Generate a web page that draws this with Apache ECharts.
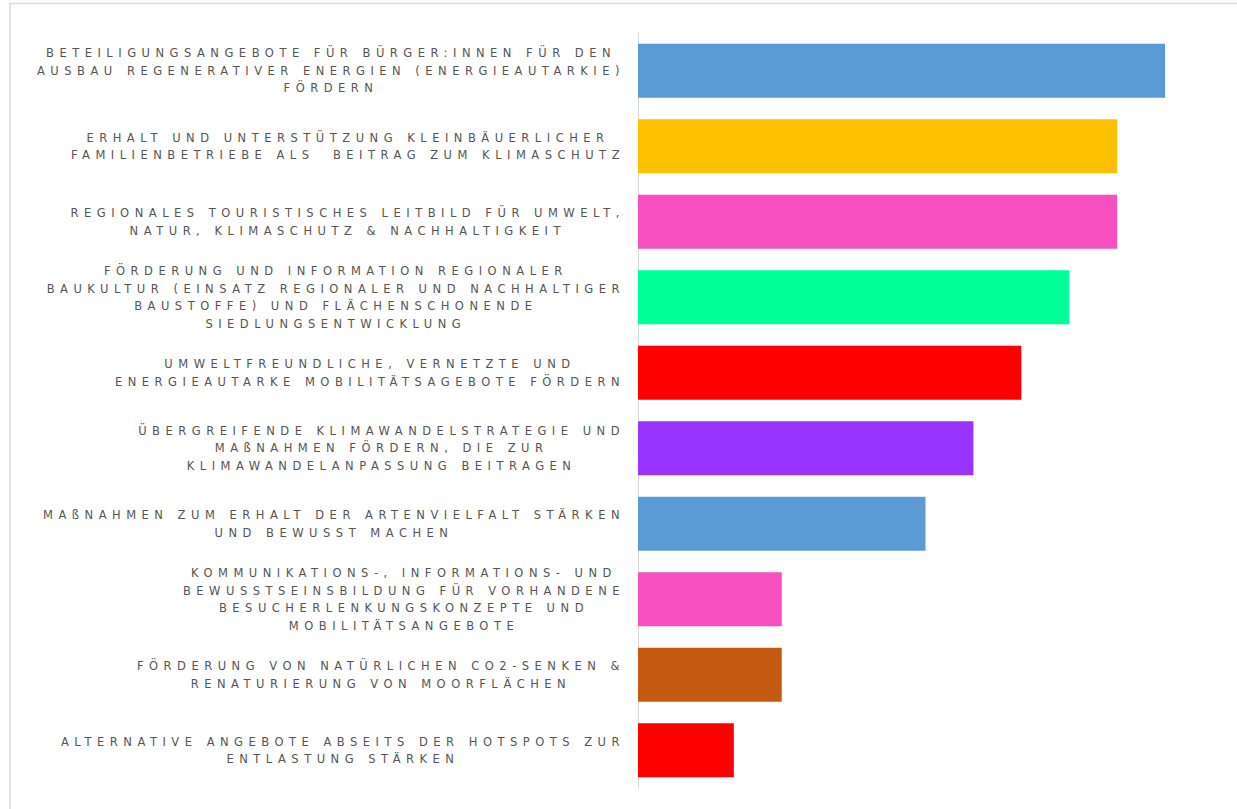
<!DOCTYPE html>
<html>
<head>
<meta charset="utf-8">
<script src="https://cdn.jsdelivr.net/npm/echarts@6/dist/echarts.min.js"></script>
<style>
  html, body { margin: 0; padding: 0; background: #ffffff; }
  #chart { width: 1237px; height: 809px; }
  /* wide tracking of the category labels */
  #chart text { letter-spacing: 5.5px; }
</style>
</head>
<body>
<div id="chart"></div>
<script>
// Maßnahmen (top to bottom) and their counts
const categories = [
  'BETEILIGUNGSANGEBOTE FÜR BÜRGER:INNEN FÜR DEN\nAUSBAU REGENERATIVER ENERGIEN (ENERGIEAUTARKIE)\nFÖRDERN',
  'ERHALT UND UNTERSTÜTZUNG KLEINBÄUERLICHER\nFAMILIENBETRIEBE ALS  BEITRAG ZUM KLIMASCHUTZ',
  'REGIONALES TOURISTISCHES LEITBILD FÜR UMWELT,\nNATUR, KLIMASCHUTZ & NACHHALTIGKEIT',
  'FÖRDERUNG UND INFORMATION REGIONALER\nBAUKULTUR (EINSATZ REGIONALER UND NACHHALTIGER\nBAUSTOFFE) UND FLÄCHENSCHONENDE\nSIEDLUNGSENTWICKLUNG',
  'UMWELTFREUNDLICHE, VERNETZTE UND\nENERGIEAUTARKE MOBILITÄTSAGEBOTE FÖRDERN',
  'ÜBERGREIFENDE KLIMAWANDELSTRATEGIE UND\nMAßNAHMEN FÖRDERN, DIE ZUR\nKLIMAWANDELANPASSUNG BEITRAGEN',
  'MAßNAHMEN ZUM ERHALT DER ARTENVIELFALT STÄRKEN\nUND BEWUSST MACHEN',
  'KOMMUNIKATIONS-, INFORMATIONS- UND\nBEWUSSTSEINSBILDUNG FÜR VORHANDENE\nBESUCHERLENKUNGSKONZEPTE UND\nMOBILITÄTSANGEBOTE',
  'FÖRDERUNG VON NATÜRLICHEN CO2-SENKEN &\nRENATURIERUNG VON MOORFLÄCHEN',
  'ALTERNATIVE ANGEBOTE ABSEITS DER HOTSPOTS ZUR\nENTLASTUNG STÄRKEN'
];
const values = [11, 10, 10, 9, 8, 7, 6, 3, 3, 2];
const barColors = ['#5B9BD5', '#FFC000', '#F74FBF', '#00FF99', '#FF0000',
                   '#9933FF', '#5B9BD5', '#F74FBF', '#C55A11', '#FF0000'];

const LETTER_SPACING = 5.5;

// text measurement that accounts for the CSS letter-spacing on labels
const measureCtx = document.createElement('canvas').getContext('2d');
if (echarts.setPlatformAPI) {
  echarts.setPlatformAPI({
    measureText: function (text, font) {
      measureCtx.font = font || '12px sans-serif';
      const w = measureCtx.measureText(text).width;
      return { width: w + (text ? text.length * LETTER_SPACING : 0) };
    }
  });
}

const chart = echarts.init(document.getElementById('chart'), null, { renderer: 'svg' });

chart.setOption({
  animation: false,
  backgroundColor: '#ffffff',
  grid: { left: 638, right: 24, top: 33, bottom: 21 },
  xAxis: {
    type: 'value',
    min: 0,
    max: 12,
    show: false,
    splitLine: { show: false }
  },
  yAxis: {
    type: 'category',
    inverse: true,
    data: categories,
    axisLine: { show: true, lineStyle: { color: '#D9D9D9', width: 1 } },
    axisTick: { show: false },
    axisLabel: {
      interval: 0,
      margin: 13,
      formatter: function (v) { return '{c|' + v + '}'; },
      rich: {
        c: {
          align: 'center',
          fontFamily: 'DejaVu Sans',
          fontSize: 11.5,
          lineHeight: 17.5,
          color: '#555555'
        }
      }
    }
  },
  series: [{
    type: 'bar',
    data: values.map(function (v, i) {
      return { value: v, itemStyle: { color: barColors[i] } };
    }),
    barCategoryGap: '28.5%',
    label: { show: false }
  }],
  graphic: [{
    type: 'polyline',
    silent: true,
    shape: { points: [[10, 830], [10, 3.5], [1260, 3.5]] },
    style: { stroke: '#D9D9D9', lineWidth: 1.5, fill: null }
  }]
});
</script>
</body>
</html>
